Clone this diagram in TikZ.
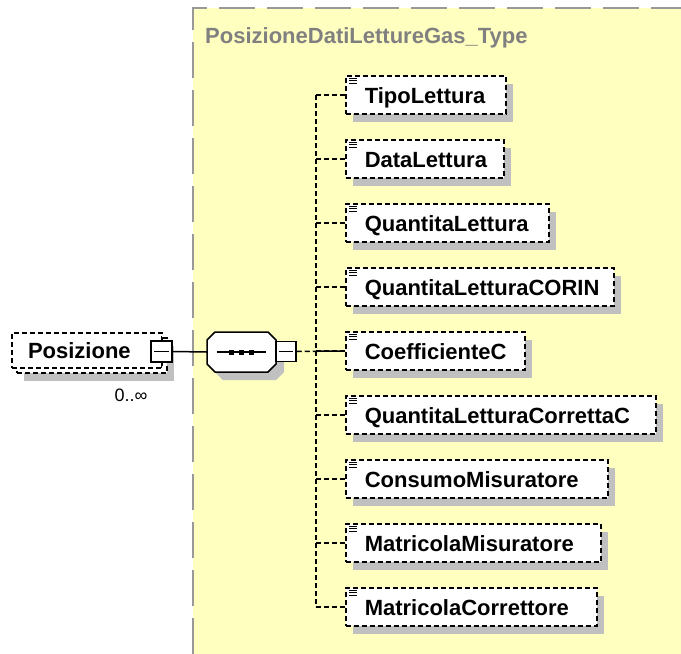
\documentclass[tikz,border=0pt]{standalone}
\usepackage{fontspec}
\setmainfont{Liberation Sans}
\usetikzlibrary{shadows}

\definecolor{typefill}{RGB}{255,255,192}
\definecolor{typeline}{RGB}{153,153,153}
\definecolor{shadowgray}{RGB}{192,192,192}

% octagon outline round a centre point
\def\octpath{+(-26.5,-20) -- +(26.5,-20) -- +(34.5,-12) -- +(34.5,12)
  -- +(26.5,20) -- +(-26.5,20) -- +(-34.5,12) -- +(-34.5,-12) -- cycle}

\begin{document}
\begin{tikzpicture}[x=1pt, y=-1pt,
  elembox/.style={draw, fill=white, dash pattern=on 5pt off 3pt,
    line width=1.5pt, minimum height=38pt, text height=16pt,
    text depth=0pt, inner ysep=0pt,
    font=\bfseries\fontsize{22}{26}\selectfont},
  boxshadow/.style={drop shadow={shadow xshift=7pt, shadow yshift=-8pt,
    fill=shadowgray, opacity=1}},
  minusbox/.style={draw, fill=white, line width=1.5pt, minimum size=21pt,
    inner sep=0pt},
  dashlink/.style={line width=1.5pt, dash pattern=on 5pt off 3pt}]
  \useasboundingbox (0,0) rectangle (681,654);
  \fill[white] (0,0) rectangle (681,654);
  % complex type area
  \fill[typefill] (193,8) rectangle (681,654);
  \draw[typeline, line width=2pt, dash pattern=on 36pt off 12pt]
    (193,654) -- (193,8) -- (681,8);
  \node[anchor=base west, text=gray, inner sep=0pt,
    font=\bfseries\fontsize{22}{26}\selectfont] (title) at (205,43)
    {PosizioneDatiLettureGas\_Type};

  % repeated element
  \node[elembox, boxshadow, minimum width=150pt, minimum height=35pt]
    (posback) at (92,355.5) {};
  \node[elembox, minimum height=35pt, inner xsep=16pt, text width=118pt,
    align=left] (pos) at (87,350.5) {Posizione};
  \node[anchor=base, inner sep=0pt, font=\fontsize{18}{20}\selectfont]
    (mult) at (131,401) {0..∞};
  \node[minusbox] (posminus) at (161.5,351.5) {};
  \draw[line width=1.5pt] ([xshift=4pt]posminus.west)
    -- ([xshift=-4pt]posminus.east);
  \draw[line width=1.5pt] (posminus.north) -- ++(0,-4);
  \draw[line width=1.5pt] (posminus.south) -- ++(0,5);

  % sequence compositor
  \node[minimum width=69pt, minimum height=40pt, inner sep=0pt]
    (seq) at (241.5,352) {};
  \fill[shadowgray] ([shift={(8,8)}]seq.center) \octpath;
  \draw[fill=white, line width=1.5pt] (seq.center) \octpath;
  \draw[line width=1.5pt] ([xshift=10pt]seq.west) -- ([xshift=-10pt]seq.east);
  \foreach \dx in {-10,0,10}
    \fill ([xshift=\dx pt]seq.center) +(-2.5,-2.5) rectangle +(2.5,2.5);
  \node[minusbox, minimum size=20pt] (seqminus) at (286,351.5) {};
  \draw[line width=1.5pt] ([xshift=4pt]seqminus.west)
    -- ([xshift=-4pt]seqminus.east);
  \draw[line width=1.5pt] (posminus.east) -- (seq.west);

  % child elements
  \coordinate (spine) at (316,0);
  \foreach \name/\w [count=\i from 0] in {TipoLettura/160, DataLettura/158,
      QuantitaLettura/203, QuantitaLetturaCORIN/268, CoefficienteC/179,
      QuantitaLetturaCorrettaC/310, ConsumoMisuratore/262,
      MatricolaMisuratore/255, MatricolaCorrettore/251} {
    \pgfmathsetmacro\tw{\w-38}
    \node[elembox, boxshadow, anchor=west, inner xsep=19pt, text width=\tw pt,
      align=left] (c\i) at (345,95+64*\i) {\name};
    \foreach \dy in {3,5.5,8}
      \draw[line width=1pt] ([shift={(4,\dy)}]c\i.north west) -- ++(8,0);
    \draw[dashlink] (c\i.west) -- (c\i.west -| spine);
  }
  \draw[dashlink] (c0.west -| spine) -- (c8.west -| spine);
  \draw[dashlink] (seqminus.east) -- (c4.west);
\end{tikzpicture}
\end{document}
